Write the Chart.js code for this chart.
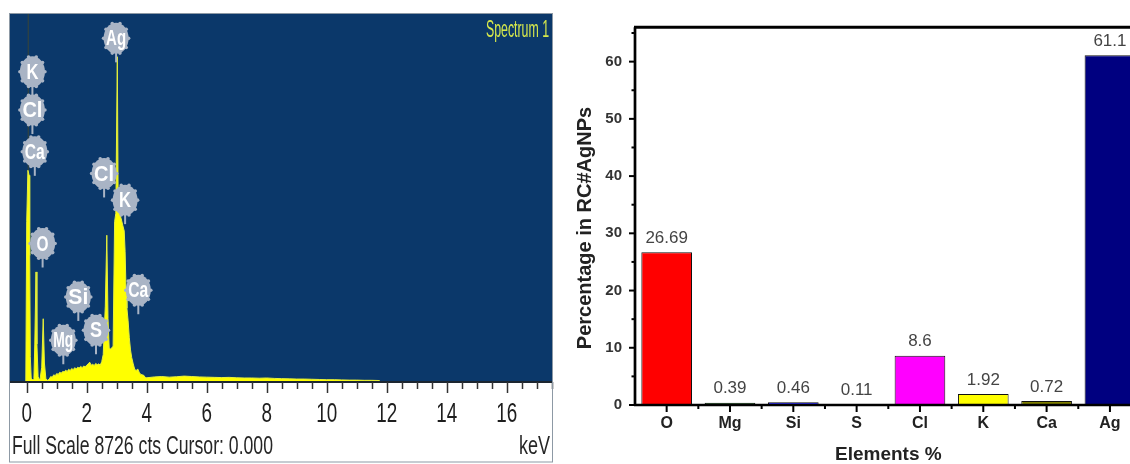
<!DOCTYPE html>
<html>
<head>
<meta charset="utf-8">
<script src="https://cdn.jsdelivr.net/npm/chart.js@4.4.0/dist/chart.umd.min.js"></script>
<style>
  html, body { margin: 0; padding: 0; background: #fff; overflow: hidden; }
  #wrap { position: relative; width: 1130px; height: 464px; overflow: hidden; }
  #edsChart { position: absolute; left: 0; top: 0; }
  #barChart { position: absolute; left: 560px; top: 0; }
</style>
</head>
<body>
<div id="wrap">
  <canvas id="edsChart" width="560" height="464"></canvas>
  <canvas id="barChart" width="600" height="464"></canvas>
</div>
<script>
// ---- EDS spectrum (left panel) ----
const energyKeV = [
  -0.56, -0.03, 0.0, 0.04, 0.08, 0.1, 0.12, 0.15, 0.2, 0.24, 0.27, 0.31, 0.34, 0.38,
  0.44, 0.5, 0.55, 0.59, 0.64, 0.7, 0.75, 0.8, 0.85, 0.9, 0.95, 1.0, 1.05, 1.1, 1.15, 1.2,
  1.25, 1.3, 1.35, 1.4, 1.45, 1.5, 1.55, 1.6, 1.65, 1.7, 1.75, 1.8, 1.85, 1.9, 1.95, 2.0,
  2.05, 2.1, 2.15, 2.2, 2.25, 2.3, 2.35, 2.4, 2.45, 2.5, 2.55, 2.62, 2.67, 2.71, 2.75, 2.8,
  2.88, 2.93, 2.97, 3.02, 3.05, 3.1, 3.15, 3.2, 3.25, 3.28, 3.31, 3.34, 3.38, 3.42, 3.46,
  3.5, 3.55, 3.6, 3.65, 3.7, 3.75, 3.8, 3.85, 3.9, 3.95, 4.0, 4.25, 4.5, 4.75, 5.0, 5.25,
  5.5, 5.75, 6.0, 6.25, 6.5, 6.75, 7.0, 7.25, 7.5, 7.75, 8.0, 8.25, 8.5, 8.75, 9.0, 9.25,
  9.5, 9.75, 10.0, 10.25, 10.5, 10.75, 11.0, 11.25, 11.5, 11.75, 11.8, 17.5
];
const counts = [
  0, 0, 3800, 5020, 4900, 3000, 600, 90, 50, 80, 900, 2610, 900, 120,
  40, 350, 1500, 450, 70, 40, 70, 130, 110, 170, 150, 200, 180, 230, 210, 250,
  240, 280, 250, 300, 270, 320, 290, 340, 310, 350, 330, 370, 340, 380, 360, 400,
  430, 470, 400, 420, 390, 440, 410, 430, 400, 480, 650, 1800, 3480, 1500, 800, 780,
  850, 3800, 4000, 7713, 4100, 3980, 3870, 3720, 3580, 3100, 2200, 1750, 1450, 1050, 760,
  580, 430, 300, 270, 310, 230, 180, 170, 160, 110, 100, 120, 130, 115, 125, 140,
  130, 120, 115, 110, 105, 110, 100, 95, 95, 90, 95, 85, 80, 75, 70, 70,
  65, 60, 55, 55, 50, 45, 45, 40, 40, 35, 0, 0
];
const fullScaleCts = 8726;
const strobeKeV = 0.05;
const energyTicks = [0, 2, 4, 6, 8, 10, 12, 14, 16];
const peakTags = ['K', 'Cl', 'Ca', 'Ag', 'Cl', 'K', 'O', 'Si', 'Mg', 'S', 'Ca'];
const peakTagKeV = [0.19, 0.19, 0.27, 2.98, 2.58, 3.28, 0.53, 1.72, 1.22, 2.31, 3.72];
const peakTagCts = [7357, 6448, 5458, 8149, 4945, 4312, 3284, 2017, 990, 1227, 2176];

// ---- Elemental composition (right panel) ----
const elements = ['O', 'Mg', 'Si', 'S', 'Cl', 'K', 'Ca', 'Ag'];
const percentages = [26.69, 0.39, 0.46, 0.11, 8.6, 1.92, 0.72, 61.1];
const percentTicks = [0, 10, 20, 30, 40, 50, 60];

const NARROW = '"Liberation Sans Narrow", "Liberation Sans", Arial, sans-serif';
const ARIAL = '"Liberation Sans", Arial, sans-serif';

// draw text squeezed to a given width (the EDS software uses a condensed face)
function squeezed(ctx, text, x, y, font, color, align, width) {
  ctx.save();
  ctx.font = font;
  ctx.fillStyle = color;
  ctx.textAlign = align;
  ctx.textBaseline = 'middle';
  const w = ctx.measureText(text).width;
  ctx.translate(x, y);
  ctx.scale(width ? width / w : 1, 1);
  ctx.fillText(text, 0, 0);
  ctx.restore();
}

const edsDecor = {
  id: 'edsDecor',
  beforeDatasetsDraw(chart) {
    const { ctx, chartArea: a } = chart;
    ctx.save();
    ctx.fillStyle = '#0b386a';
    ctx.fillRect(a.left, a.top, a.right - a.left, a.bottom - a.top);
    ctx.restore();
  },
  afterDraw(chart) {
    const { ctx, chartArea: a } = chart;
    const x = chart.scales.x, y = chart.scales.y;
    ctx.save();
    // baseline + ticks
    ctx.strokeStyle = '#1c2630';
    ctx.lineWidth = 2;
    ctx.beginPath();
    ctx.moveTo(a.left, a.bottom);
    ctx.lineTo(a.right, a.bottom);
    ctx.stroke();
    ctx.strokeStyle = '#333';
    ctx.lineWidth = 1.5;
    for (let v = 0; v <= x.max; v += 0.5) {
      const px = Math.round(x.getPixelForValue(v)) + 0.5;
      const len = v % 2 === 0 ? 11 : 7;
      ctx.beginPath();
      ctx.moveTo(px, a.bottom);
      ctx.lineTo(px, a.bottom + len);
      ctx.stroke();
    }
    // tick labels
    x.ticks.forEach(t => {
      const s = String(t.value);
      squeezed(ctx, s, x.getPixelForValue(t.value), 414, '28px ' + NARROW, '#1e1e1e', 'center', s.length * 10.5);
    });
    squeezed(ctx, 'Full Scale 8726 cts Cursor: 0.000', 12, 447, '26px ' + NARROW, '#262626', 'left', 261);
    squeezed(ctx, 'keV', 550, 447, '26px ' + NARROW, '#262626', 'right', 31);
    squeezed(ctx, 'Spectrum 1', 549, 31, '23px ' + NARROW, '#d6e84c', 'right', 63);

    // element tags
    peakTags.forEach((name, i) => {
      const cx = x.getPixelForValue(peakTagKeV[i]);
      const cy = y.getPixelForValue(peakTagCts[i]);
      ctx.fillStyle = '#a9b4c5';
      ctx.strokeStyle = '#a9b4c5';
      ctx.lineWidth = 2;
      ctx.beginPath();
      ctx.moveTo(cx, cy);
      ctx.lineTo(cx, cy + 24);
      ctx.stroke();
      ctx.beginPath();
      ctx.ellipse(cx, cy, 12.5, 15.5, 0, 0, Math.PI * 2);
      ctx.fill();
      for (let k = 0; k < 10; k++) {
        const ang = k * Math.PI / 5;
        ctx.beginPath();
        ctx.arc(cx + Math.cos(ang) * 12.5, cy + Math.sin(ang) * 15.5, 1.8, 0, Math.PI * 2);
        ctx.fill();
      }
      squeezed(ctx, name, cx, cy + 1, 'bold 22px ' + NARROW, '#ffffff', 'center', name.length === 1 ? 12 : 20);
    });

    // frame
    ctx.strokeStyle = '#8d99a5';
    ctx.lineWidth = 1;
    ctx.strokeRect(a.left - 0.5, a.top - 0.5, a.right - a.left + 1, chart.height - a.top - 1.5);
    ctx.restore();
  }
};

new Chart(document.getElementById('edsChart'), {
  type: 'line',
  data: {
    datasets: [
      {
        data: energyKeV.map((e, i) => ({ x: e, y: counts[i] })),
        fill: 'origin',
        backgroundColor: '#ffff00',
        borderColor: '#e6f03a',
        borderWidth: 1,
        pointRadius: 0,
        tension: 0
      },
      {
        data: [{ x: strobeKeV, y: 0 }, { x: strobeKeV, y: fullScaleCts }],
        fill: false,
        borderColor: '#3a4636',
        borderWidth: 1,
        pointRadius: 0
      }
    ]
  },
  options: {
    responsive: false,
    animation: false,
    layout: { padding: { left: 10, right: 8, top: 14, bottom: 0 } },
    plugins: { legend: { display: false }, tooltip: { enabled: false } },
    scales: {
      x: {
        type: 'linear',
        min: -0.557,
        max: 17.51,
        afterBuildTicks: s => { s.ticks = energyTicks.map(v => ({ value: v })); },
        grid: { display: false, drawTicks: false },
        border: { display: false },
        ticks: { display: false },
        afterFit: s => { s.height = 82; }
      },
      y: { display: false, min: 0, max: fullScaleCts }
    }
  },
  plugins: [edsDecor]
});

// ---- bar chart ----
const barDecor = {
  id: 'barDecor',
  afterDatasetsDraw(chart) {
    const { ctx, chartArea: a } = chart;
    const x = chart.scales.x, y = chart.scales.y;
    ctx.save();
    ctx.strokeStyle = '#000';
    // y ticks (major every 10, minor between)
    ctx.lineWidth = 2;
    y.ticks.forEach(t => {
      const py = y.getPixelForValue(t.value);
      const len = t.value % 10 === 0 ? 6 : 3.5;
      ctx.beginPath();
      ctx.moveTo(a.left - len, py);
      ctx.lineTo(a.left, py);
      ctx.stroke();
    });
    // x ticks at the labels and between the categories
    const step = x.getPixelForValue(1) - x.getPixelForValue(0);
    elements.forEach((_, i) => {
      const px = x.getPixelForValue(i);
      ctx.beginPath();
      ctx.moveTo(px, a.bottom);
      ctx.lineTo(px, a.bottom + 7);
      ctx.moveTo(px + step / 2, a.bottom);
      ctx.lineTo(px + step / 2, a.bottom + 4);
      ctx.stroke();
    });
    // axes and top frame
    ctx.lineWidth = 2.7;
    ctx.beginPath();
    ctx.moveTo(a.left, a.top);
    ctx.lineTo(a.left, a.bottom + 1);
    ctx.moveTo(a.left - 1, a.bottom);
    ctx.lineTo(a.right, a.bottom);
    ctx.stroke();
    ctx.lineWidth = 3;
    ctx.beginPath();
    ctx.moveTo(a.left - 1, a.top);
    ctx.lineTo(a.right, a.top);
    ctx.stroke();
    // value labels
    ctx.fillStyle = '#444';
    ctx.font = '17px ' + ARIAL;
    ctx.textAlign = 'center';
    ctx.textBaseline = 'middle';
    chart.getDatasetMeta(0).data.forEach((bar, i) => {
      ctx.fillText(String(percentages[i]), bar.x, bar.y - 14);
    });
    // y axis title
    ctx.fillStyle = '#222';
    ctx.font = 'bold 20px ' + ARIAL;
    ctx.translate(25, 228);
    ctx.rotate(-Math.PI / 2);
    ctx.fillText('Percentage in RC#AgNPs', 0, 0);
    ctx.restore();
  }
};

new Chart(document.getElementById('barChart'), {
  type: 'bar',
  data: {
    labels: elements,
    datasets: [{
      data: percentages,
      backgroundColor: ['#ff0000', '#008000', '#0000ff', '#00ffff', '#ff00ff', '#ffff00', '#808000', '#000080'],
      borderColor: '#111',
      borderWidth: 1,
      barPercentage: 0.8,
      categoryPercentage: 1
    }]
  },
  options: {
    responsive: false,
    animation: false,
    layout: { padding: { left: 0, right: 18.4, top: 27.3, bottom: 0 } },
    plugins: { legend: { display: false }, tooltip: { enabled: false } },
    scales: {
      x: {
        grid: { display: false, drawTicks: false },
        border: { display: false },
        ticks: { padding: 9, color: '#222', font: { family: ARIAL, size: 16, weight: 'bold' } },
        title: {
          display: true, text: 'Elements %', color: '#222',
          padding: { top: 0, bottom: 0 },
          font: { family: ARIAL, size: 19, weight: 'bold', lineHeight: 1 }
        },
        afterFit: s => { s.height = 59; }
      },
      y: {
        min: 0,
        max: 66,
        afterBuildTicks: s => {
          const t = [];
          percentTicks.forEach(v => { t.push({ value: v }); t.push({ value: v + 5 }); });
          s.ticks = t;
        },
        grid: { display: false, drawTicks: false },
        border: { display: false },
        ticks: {
          padding: 13, color: '#333',
          font: { family: ARIAL, size: 15, weight: 'bold' },
          callback: v => (v % 10 === 0 ? v : '')
        },
        afterFit: s => { s.width = 75; }
      }
    }
  },
  plugins: [barDecor]
});
</script>
</body>
</html>
